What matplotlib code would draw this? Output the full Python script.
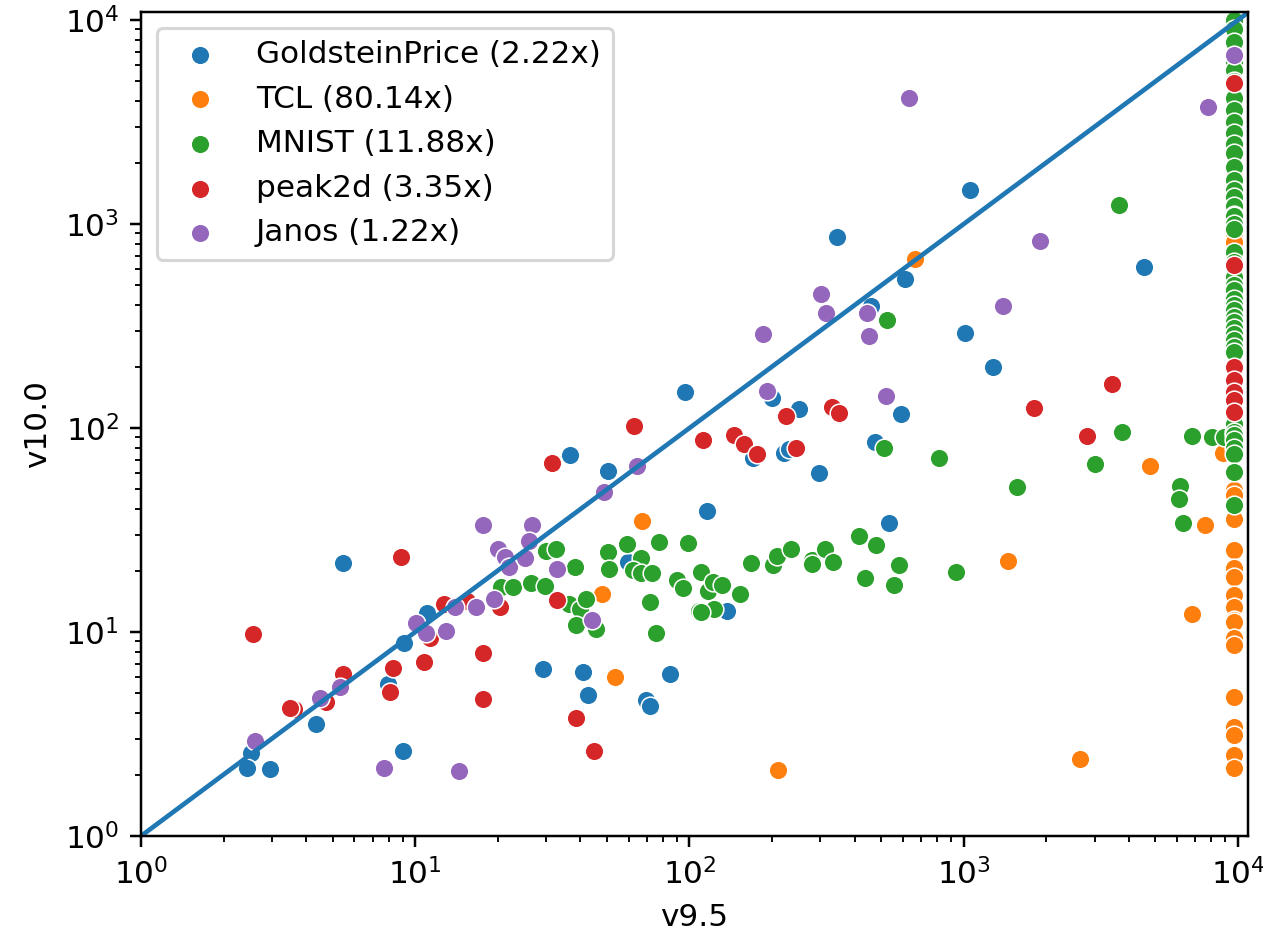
import matplotlib
matplotlib.use("Agg")
import matplotlib.pyplot as plt

COL = 9670  # v9.5 time-out column

labels = ["GoldsteinPrice (2.22x)", "TCL (80.14x)", "MNIST (11.88x)",
          "peak2d (3.35x)", "Janos (1.22x)"]
colors = ["#1f77b4", "#ff7f0e", "#2ca02c", "#d62728", "#9467bd"]

# GoldsteinPrice
gp_x = [5.46, 11.0, 9.12, 7.93, 4.35, 2.51, 2.43, 2.95, 9.05, 96.7, 36.6, 50.5,
        115.6, 59.6, 29.3, 40.9, 42.5, 69.6, 71.7, 85.1, 200, 251, 593, 170, 221,
        231, 473, 297, 534, 137, 1009, 1280, 1051, 345, 4550, 610, 459]
gp_y = [21.7, 12.4, 8.87, 5.54, 3.53, 2.54, 2.15, 2.12, 2.61, 150, 73.9, 61.7,
        39.2, 22.1, 6.6, 6.39, 4.9, 4.64, 4.34, 6.22, 140, 124, 117, 71, 75.7,
        78.5, 85.1, 60.5, 34.4, 12.7, 294, 200, 1468, 863, 615, 537, 396]

# TCL
tcl_x = [66.9, 47.8, 53.4, 211, 663, 8820, 4790, 7600, 1449, 6800, 2663] + [COL] * 22
tcl_y = [34.9, 15.3, 6.03, 2.11, 673, 75.1, 65.2, 33.4, 22.3, 12.2, 2.38,
         8700, 2400, 1720, 883, 819, 49.7, 47, 36, 25.2, 20.5, 18.7, 15.2,
         13.3, 11.5, 11.2, 9.3, 8.6, 4.78, 3.43, 3.13, 2.49, 2.15]

# MNIST
mn_x = [29.9, 32.6, 38.4, 50.5, 50.7, 59.0, 66.5, 62.2, 66.7, 72.9, 77.6, 98.6,
        90.2, 94.6, 110.6, 117, 121.6, 108, 121.6, 71.6, 75.7, 20.6, 22.8, 26.4,
        29.8, 36.5, 39.8, 42.1, 38.5, 45.8, 512, 815, 415, 478, 580, 435, 556,
        937, 168, 201, 208, 234, 281, 281, 311, 335, 131, 153, 123, 110, 3764,
        6820, 8040, 8900, 3010, 1563, 6140, 6090, 6310, 3690, 525] + [COL] * 46
mn_y = [24.9, 25.6, 20.8, 24.8, 20.4, 27.1, 23.1, 20.1, 19.4, 19.4, 27.7, 27.2,
        18.0, 16.4, 19.8, 15.9, 17.6, 12.7, 12.8, 14.1, 9.85, 16.6, 16.6, 17.3,
        16.8, 13.8, 13.0, 14.6, 10.8, 10.3, 79.4, 71, 29.6, 26.7, 21.3, 18.5, 17.0,
        19.8, 21.7, 21.3, 23.6, 25.4, 22.5, 21.5, 25.4, 22.1, 17.1, 15.3, 12.9, 12.5,
        95.2, 91.4, 90, 90, 66.6, 51.5, 52, 44.9, 34.4, 1240, 338,
        10000, 9000, 7820, 6200, 5690, 5000, 4130, 3620, 3170, 2800, 2480, 2230,
        1910, 1650, 1470, 1360, 1220, 1110, 1090, 1000, 950, 731, 650, 600, 551,
        500, 474, 430, 400, 380, 351, 330, 308, 290, 270, 250, 236, 115, 105,
        96, 92, 87, 80, 75, 61, 42]

# peak2d
pk_x = [8.87, 2.57, 11.3, 10.8, 8.3, 8.07, 5.46, 4.74, 3.63, 3.51, 62.7, 112,
        31.5, 32.8, 20.3, 15.5, 12.7, 17.7, 17.6, 38.7, 44.9, 225, 332, 351, 145,
        158, 176, 244, 3460, 1799, 2806] + [COL] * 7
pk_y = [23.2, 9.75, 9.4, 7.1, 6.7, 5.08, 6.26, 4.55, 4.18, 4.22, 102, 87.3,
        67.3, 14.4, 13.3, 14.2, 13.7, 7.9, 4.69, 3.77, 2.62, 115, 127, 119, 92.4,
        83.2, 74.8, 80, 164, 125, 91.4,
        4930, 629, 200, 172, 151, 137, 120]

# Janos
jn_x = [10.1, 10.96, 5.3, 4.51, 2.6, 7.7, 64.2, 48.7, 17.6, 26.6, 26.0, 20.1,
        21.2, 22.0, 25.2, 32.9, 44.3, 19.3, 16.7, 14.0, 13.0, 14.5, 191, 519,
        1390, 631, 7780, 1905, 302, 315, 444, 450, 186, COL]
jn_y = [11.1, 9.93, 5.36, 4.73, 2.93, 2.16, 65.3, 48.5, 33.6, 33.6, 28.0, 25.4,
        23.4, 20.9, 23.1, 20.4, 11.5, 14.5, 13.3, 13.2, 10.1, 2.09, 152, 143,
        398, 4150, 3750, 826, 454, 366, 366, 283, 289, 6730]

series = [(gp_x, gp_y), (tcl_x, tcl_y), (mn_x, mn_y), (pk_x, pk_y), (jn_x, jn_y)]

DPI = 224
fig = plt.figure(figsize=(1263 / DPI, 940 / DPI), dpi=DPI)
ax = fig.add_axes([0.1116, 0.1106, 0.8764, 0.8766])

for (xs, ys), lab, c in zip(series, labels, colors):
    ax.scatter(xs, ys, s=36, color=c, edgecolor="white", linewidth=0.5, label=lab)

ax.plot([1, 11000], [1, 11000], color="#1f77b4", linewidth=1.5)

ax.set_xscale("log")
ax.set_yscale("log")
ax.set_xlim(1, 10870)
ax.set_ylim(1, 10950)
ax.set_xlabel("v9.5")
ax.set_ylabel("v10.0")
ax.legend(loc="upper left")

fig.savefig("out.png", dpi=DPI)
